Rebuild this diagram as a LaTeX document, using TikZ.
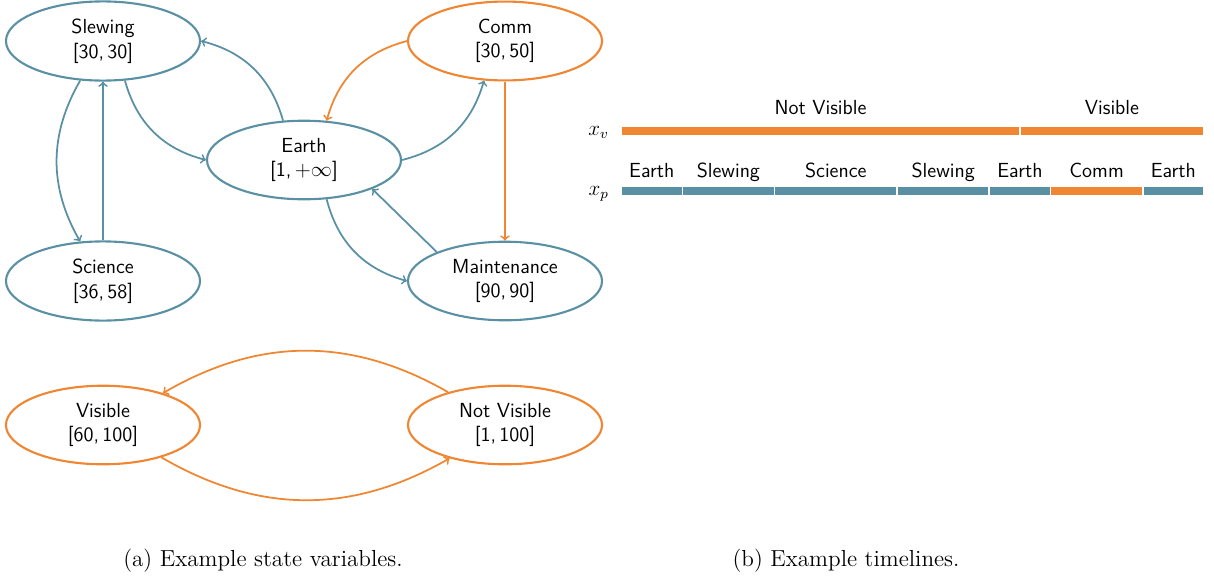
\documentclass[tikz,border=0pt]{standalone}
\usetikzlibrary{shapes.geometric}

\definecolor{stateBlue}{RGB}{90,144,164}
\definecolor{stateOrange}{RGB}{240,134,50}

\begin{document}
\begin{tikzpicture}[
    stateNode/.style={ellipse, draw=#1, line width=1.2pt, minimum width=3.88cm, minimum height=1.55cm, align=center, font=\sffamily\fontsize{11.6}{14}\selectfont},
    transition/.style={->, draw=#1, line width=1pt},
    segment/.style={fill=#1, draw=white, line width=1pt},
    segmentLabel/.style={anchor=base, font=\sffamily\fontsize{11.6}{14}\selectfont},
    caption/.style={anchor=base, font=\fontsize{13.2}{16}\selectfont},
  ]
    % Fix the size of the picture
    \useasboundingbox (0, 0) rectangle (24.28, 11.62);

    \begin{scope}
      % States of the first variable
      \node[stateNode=stateBlue] (slewing) at (2.06, 10.8) {Slewing\\{}[30,\,30]};
      \node[stateNode=stateOrange] (comm) at (10.1, 10.8) {Comm\\{}[30,\,50]};
      \node[stateNode=stateBlue] (earth) at (6.08, 8.42) {Earth\\{}[1,\,$+\infty$]};
      \node[stateNode=stateBlue] (science) at (2.06, 6.0) {Science\\{}[36,\,58]};
      \node[stateNode=stateBlue] (maintenance) at (10.1, 6.0) {Maintenance\\{}[90,\,90]};

      % Transitions between the states
      \draw[transition=stateBlue] (slewing.-120) to[bend right=30] (science.120);
      \draw[transition=stateBlue] (science.north) -- (slewing.south);
      \draw[transition=stateBlue] (slewing.-61) to[bend right=30] (earth.west);
      \draw[transition=stateBlue] (earth.118) to[bend right=30] (slewing.east);
      \draw[transition=stateBlue] (earth.east) to[bend right=30] (comm.-118);
      \draw[transition=stateOrange] (comm.west) to[bend right=30] (earth.60);
      \draw[transition=stateOrange] (comm.south) -- (maintenance.north);
      \draw[transition=stateBlue] (earth.-60) to[bend right=30] (maintenance.west);
      \draw[transition=stateBlue] (maintenance.157) -- (earth.-23);
    \end{scope}

    \begin{scope}
      % States of the second variable
      \node[stateNode=stateOrange] (visible) at (2.06, 3.12) {Visible\\{}[60,\,100]};
      \node[stateNode=stateOrange] (notVisible) at (10.1, 3.12) {Not Visible\\{}[1,\,100]};

      % Transitions between the states
      \draw[transition=stateOrange] (notVisible.150) to[bend right=30] (visible.28);
      \draw[transition=stateOrange] (visible.-29) to[bend right=30] (notVisible.-149);
    \end{scope}

    % Timelines, one unit on the x axis is one time step
    \begin{scope}[xshift=12.42cm, x=0.06137cm]
      % Timeline of the visibility
      \node[anchor=base east, font=\fontsize{11.6}{14}\selectfont] (xvLabel) at (-2, 8.92) {$x_v$};
      \fill[segment=stateOrange] (0, 8.9) rectangle (130, 9.1);
      \fill[segment=stateOrange] (130, 8.9) rectangle (190, 9.1);
      \node[segmentLabel] (xvNotVisible) at (65, 9.34) {Not Visible};
      \node[segmentLabel] (xvVisible) at (160, 9.34) {Visible};

      % Timeline of the pointing
      \node[anchor=base east, font=\fontsize{11.6}{14}\selectfont] (xpLabel) at (-2, 7.72) {$x_p$};
      \fill[segment=stateBlue] (0, 7.7) rectangle (20, 7.9);
      \fill[segment=stateBlue] (20, 7.7) rectangle (50, 7.9);
      \fill[segment=stateBlue] (50, 7.7) rectangle (90, 7.9);
      \fill[segment=stateBlue] (90, 7.7) rectangle (120, 7.9);
      \fill[segment=stateBlue] (120, 7.7) rectangle (140, 7.9);
      \fill[segment=stateOrange] (140, 7.7) rectangle (170, 7.9);
      \fill[segment=stateBlue] (170, 7.7) rectangle (190, 7.9);
      \node[segmentLabel] (xpEarthA) at (10, 8.08) {Earth};
      \node[segmentLabel] (xpSlewingA) at (35, 8.08) {Slewing};
      \node[segmentLabel] (xpScience) at (70, 8.08) {Science};
      \node[segmentLabel] (xpSlewingB) at (105, 8.08) {Slewing};
      \node[segmentLabel] (xpEarthB) at (130, 8.08) {Earth};
      \node[segmentLabel] (xpComm) at (155, 8.08) {Comm};
      \node[segmentLabel] (xpEarthC) at (180, 8.08) {Earth};
    \end{scope}

    % Captions
    \node[caption] (captionA) at (5.26, 0.3) {(a) Example state variables.};
    \node[caption] (captionB) at (16.92, 0.3) {(b) Example timelines.};
  \end{tikzpicture}
\end{document}
